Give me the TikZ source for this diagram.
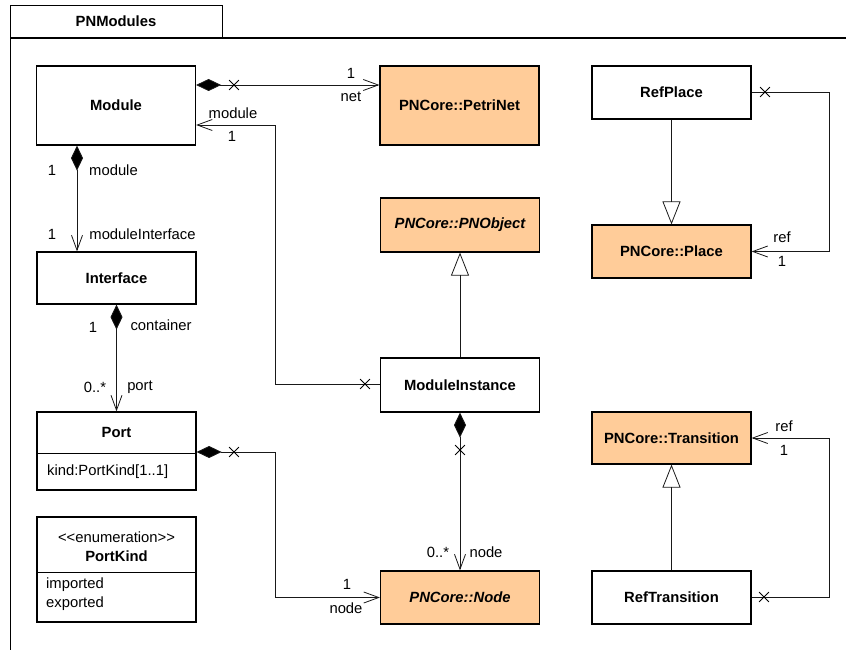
\documentclass[tikz,border=0pt]{standalone}
\usepackage{fontspec}
\setmainfont{Liberation Sans}
\usetikzlibrary{arrows.meta,shapes.misc}
\definecolor{pnorange}{HTML}{FFCC99}

\begin{document}
\begin{tikzpicture}[x=1pt,y=-1pt,font=\fontsize{14.8}{16}\selectfont,
        cls/.style={draw,line width=1.2pt,minimum width=159pt,inner sep=0pt,font=\fontsize{14.8}{16}\selectfont\bfseries},
        core/.style={cls,fill=pnorange},
        lnk/.style={line width=0.8pt,black!90},
        nav/.style={lnk,-{Straight Barb[length=15pt,width=11pt]}},
        comp/.style={lnk,{Diamond[length=25pt,width=12pt,fill=black]}-{Straight Barb[length=15pt,width=11pt]}},
        gen/.style={lnk,-{Triangle[open,length=23pt,width=18pt]}},
        xmark/.style={cross out,draw,line width=0.8pt,minimum size=9pt,inner sep=0pt},
        lbl/.style={inner sep=0pt}]
    \useasboundingbox (0,0) rectangle (846,650);
    % package frame
    \draw[line width=0.9pt] (10,38) |- (222,5) -- (222,38);
    \node[font=\fontsize{14.8}{16}\selectfont\bfseries] (pkg) at (116,21) {PNModules};
    \draw[line width=2pt] (10,38) -- (846,38);
    \draw[line width=1pt] (10,38) -- (10,650);

    % classes
    \node[cls,minimum height=79pt] (module) at (116,105.5) {Module};
    \node[core,minimum height=79pt] (petri) at (459.5,105.5) {PNCore::PetriNet};
    \node[cls,minimum height=53pt] (refplace) at (671.5,92.5) {RefPlace};
    \node[core,minimum height=53pt] (place) at (671.5,251.5) {PNCore::Place};
    \node[cls,minimum height=52pt] (iface) at (116.5,278) {Interface};
    \node[core,minimum height=54pt] (pnobject) at (460,225) {\itshape PNCore::PNObject};
    \node[cls,minimum height=54pt] (modinst) at (460,385) {ModuleInstance};
    \node[core,minimum height=52pt] (transition) at (671.5,438) {PNCore::Transition};
    \node[cls,minimum height=53pt] (reftrans) at (671.5,597.5) {RefTransition};
    \node[core,minimum height=53pt] (node) at (460,597.5) {\itshape PNCore::Node};

    \node[cls,minimum height=78pt] (port) at (116.5,451) {};
    \node[lbl,font=\fontsize{14.8}{16}\selectfont\bfseries] (portname) at (116.5,432) {Port};
    \draw[line width=1pt] (port.west |- 0,453) -- (port.east |- 0,453);
    \node[lbl,anchor=west] (portattr) at (47,472) {kind:PortKind[1..1]};

    \node[cls,minimum height=105pt] (portkind) at (116.5,569.5) {};
    \node[lbl] (stereo) at (116.5,537) {<\kern0pt<enumeration>\kern0pt>};
    \node[lbl,font=\fontsize{14.8}{16}\selectfont\bfseries] (kindname) at (116.5,556) {PortKind};
    \draw[line width=1pt] (portkind.west |- 0,572) -- (portkind.east |- 0,572);
    \node[lbl,anchor=west] (imp) at (46,585) {imported};
    \node[lbl,anchor=west] (exp) at (46,604) {exported};

    % associations
    \draw[comp] (module.east |- 0,85) -- (petri.west |- 0,85);
    \draw[nav] (modinst.west |- 0,384) -| (275,125) -- (module.east |- 0,125);
    \draw[comp] (module.south -| 77,0) -- (iface.north -| 77,0);
    \draw[comp] (iface.south) -- (port.north);
    \draw[comp] (port.east |- 0,452) -| (275,597.5) -- (node.west);
    \draw[comp] (modinst.south) -- (node.north);
    \draw[nav] (refplace.east |- 0,92) -| (829,251.5) -- (place.east);
    \draw[nav] (reftrans.east) -| (829,438) -- (transition.east);

    % generalizations
    \draw[gen] (modinst.north) -- (pnobject.south);
    \draw[gen] (refplace.south) -- (place.north);
    \draw[gen] (reftrans.north) -- (transition.south);

    % non-navigable ends
    \node[xmark] (x1) at (234,85) {};
    \node[xmark] (x2) at (365,384) {};
    \node[xmark] (x3) at (234,452) {};
    \node[xmark] (x4) at (460,450) {};
    \node[xmark] (x5) at (765,92) {};
    \node[xmark] (x6) at (764,597) {};

    % role names and multiplicities
    \node[lbl] (l1) at (351,73) {1};
    \node[lbl] (l2) at (351,97) {net};
    \node[lbl] (l3) at (233,113) {module};
    \node[lbl] (l4) at (232,136) {1};
    \node[lbl] (l5) at (52,170) {1};
    \node[lbl] (l6) at (113.5,170) {module};
    \node[lbl] (l7) at (52,234) {1};
    \node[lbl] (l8) at (142.5,234) {moduleInterface};
    \node[lbl] (l9) at (93,327) {1};
    \node[lbl] (l10) at (161,325) {container};
    \node[lbl] (l11) at (95,387) {0..*};
    \node[lbl] (l12) at (140,387) {port};
    \node[lbl] (l13) at (347,584) {1};
    \node[lbl] (l14) at (346,608) {node};
    \node[lbl] (l15) at (438,552) {0..*};
    \node[lbl] (l16) at (486,552) {node};
    \node[lbl] (l17) at (782,237) {ref};
    \node[lbl] (l18) at (782,261) {1};
    \node[lbl] (l19) at (784,426) {ref};
    \node[lbl] (l20) at (784,450) {1};
\end{tikzpicture}
\end{document}
